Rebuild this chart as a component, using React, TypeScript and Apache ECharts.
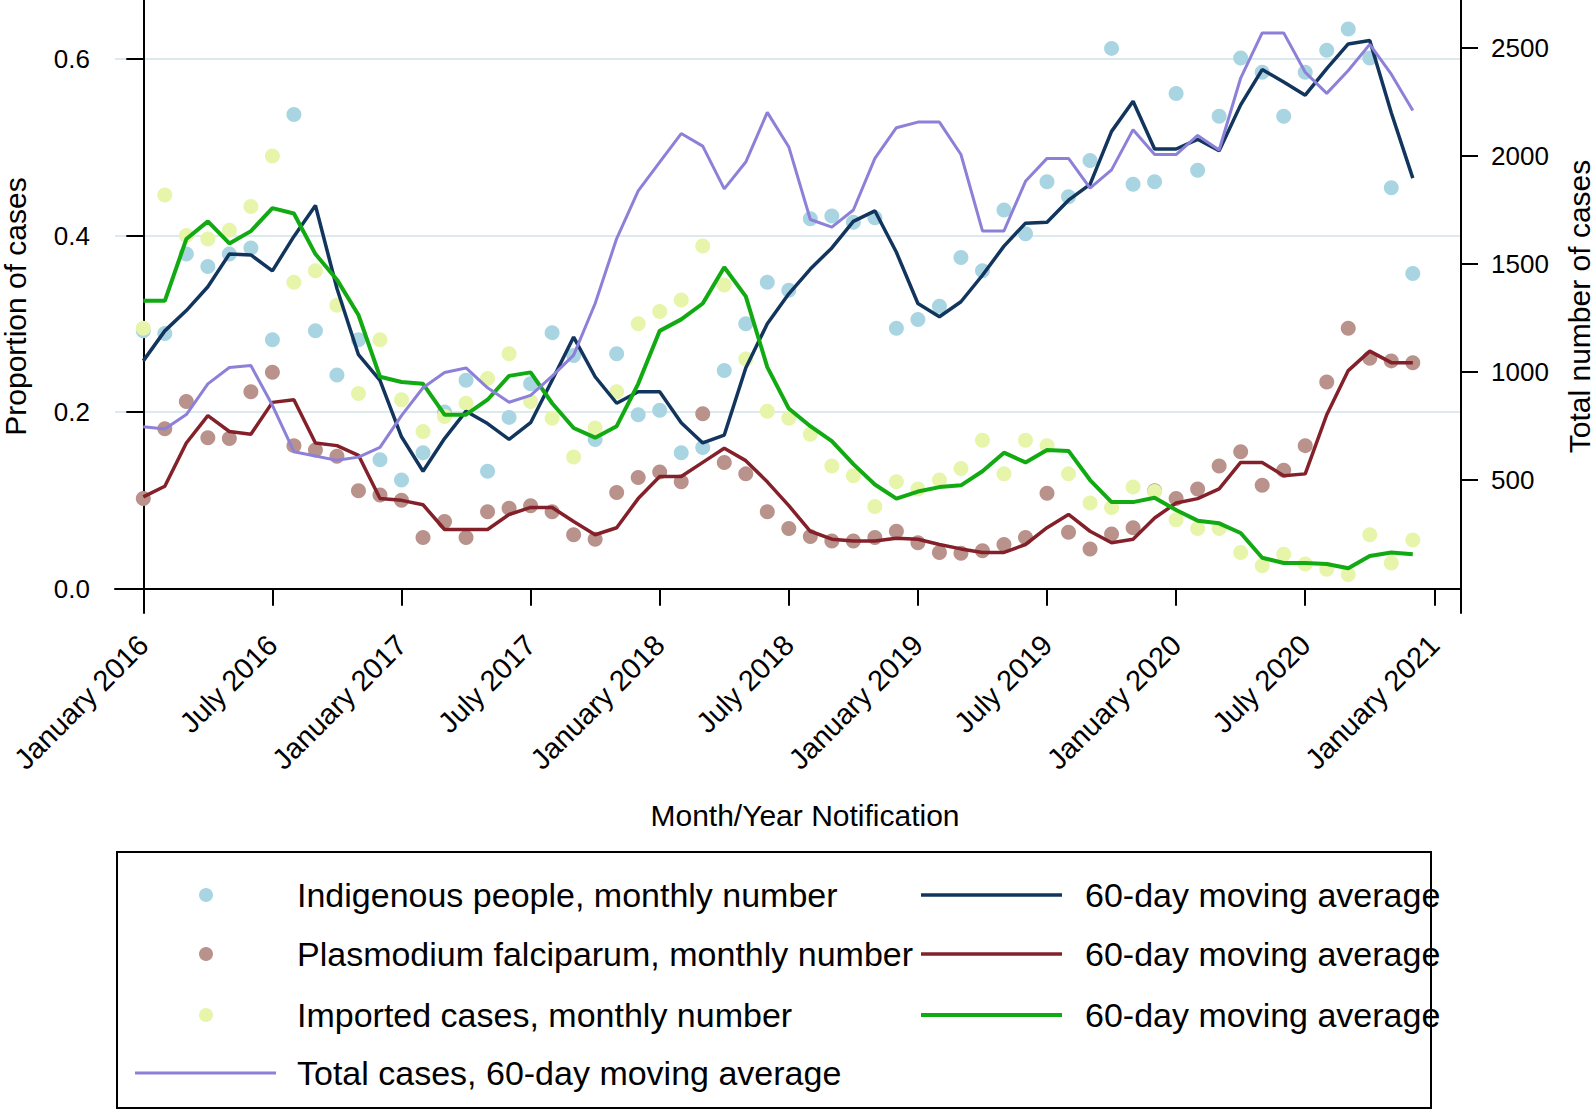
import React, { useEffect, useRef } from "react";
import * as echarts from "echarts";

const FONT = '"Liberation Sans", Arial, Helvetica, sans-serif';

// Month index 0 = January 2016 ... 59 = December 2020
const months = [
  "2016-01","2016-02","2016-03","2016-04","2016-05","2016-06","2016-07","2016-08","2016-09","2016-10","2016-11","2016-12",
  "2017-01","2017-02","2017-03","2017-04","2017-05","2017-06","2017-07","2017-08","2017-09","2017-10","2017-11","2017-12",
  "2018-01","2018-02","2018-03","2018-04","2018-05","2018-06","2018-07","2018-08","2018-09","2018-10","2018-11","2018-12",
  "2019-01","2019-02","2019-03","2019-04","2019-05","2019-06","2019-07","2019-08","2019-09","2019-10","2019-11","2019-12",
  "2020-01","2020-02","2020-03","2020-04","2020-05","2020-06","2020-07","2020-08","2020-09","2020-10","2020-11","2020-12",
];

const xTickIndex = [0, 6, 12, 18, 24, 30, 36, 42, 48, 54, 60];
const xTickLabels = [
  "January 2016", "July 2016", "January 2017", "July 2017", "January 2018", "July 2018",
  "January 2019", "July 2019", "January 2020", "July 2020", "January 2021",
];
const leftTicks = [0, 0.2, 0.4, 0.6];
const rightTicks = [500, 1000, 1500, 2000, 2500];

const indigenousMonthly = [
  0.292, 0.289, 0.379, 0.365, 0.379, 0.386, 0.282, 0.537, 0.292, 0.242,
  0.282, 0.146, 0.123, 0.154, 0.200, 0.236, 0.133, 0.194, 0.232, 0.290,
  0.264, 0.169, 0.266, 0.197, 0.202, 0.154, 0.160, 0.247, 0.300, 0.347,
  0.338, 0.419, 0.422, 0.415, 0.420, 0.295, 0.305, 0.320, 0.375, 0.360,
  0.429, 0.402, 0.461, 0.444, 0.485, 0.612, 0.458, 0.461, 0.561, 0.474,
  0.535, 0.601, 0.585, 0.535, 0.585, 0.610, 0.634, 0.601, 0.454, 0.357,
];
const falciparumMonthly = [
  0.102, 0.181, 0.212, 0.171, 0.170, 0.223, 0.245, 0.162, 0.157, 0.150,
  0.111, 0.106, 0.100, 0.058, 0.076, 0.058, 0.087, 0.091, 0.094, 0.087,
  0.061, 0.056, 0.109, 0.126, 0.132, 0.121, 0.198, 0.143, 0.130, 0.087,
  0.068, 0.059, 0.054, 0.054, 0.058, 0.065, 0.052, 0.041, 0.040, 0.043,
  0.050, 0.058, 0.108, 0.064, 0.045, 0.062, 0.069, 0.111, 0.102, 0.113,
  0.139, 0.155, 0.117, 0.134, 0.162, 0.234, 0.295, 0.261, 0.258, 0.256,
];
const importedMonthly = [
  0.295, 0.446, 0.400, 0.396, 0.406, 0.433, 0.490, 0.347, 0.360, 0.321,
  0.221, 0.282, 0.214, 0.178, 0.195, 0.210, 0.238, 0.266, 0.212, 0.193,
  0.149, 0.182, 0.223, 0.300, 0.314, 0.327, 0.388, 0.344, 0.260, 0.201,
  0.193, 0.175, 0.139, 0.128, 0.093, 0.121, 0.113, 0.123, 0.136, 0.168,
  0.130, 0.168, 0.162, 0.130, 0.097, 0.092, 0.115, 0.110, 0.078, 0.068,
  0.068, 0.041, 0.026, 0.039, 0.028, 0.022, 0.016, 0.061, 0.029, 0.055,
];
const indigenousMA = [
  0.258, 0.292, 0.315, 0.342, 0.379, 0.378, 0.360, 0.399, 0.434, 0.340,
  0.265, 0.236, 0.172, 0.133, 0.170, 0.201, 0.187, 0.169, 0.188, 0.236,
  0.285, 0.240, 0.210, 0.223, 0.223, 0.188, 0.165, 0.174, 0.250, 0.300,
  0.334, 0.362, 0.386, 0.416, 0.428, 0.381, 0.323, 0.308, 0.325, 0.355,
  0.388, 0.414, 0.415, 0.440, 0.458, 0.518, 0.552, 0.498, 0.498, 0.509,
  0.496, 0.548, 0.588, 0.574, 0.559, 0.589, 0.617, 0.621, 0.539, 0.465,
];
const falciparumMA = [
  0.104, 0.116, 0.165, 0.196, 0.178, 0.175, 0.211, 0.214, 0.165, 0.162,
  0.151, 0.102, 0.100, 0.095, 0.067, 0.067, 0.067, 0.084, 0.092, 0.092,
  0.076, 0.061, 0.069, 0.102, 0.127, 0.127, 0.143, 0.159, 0.145, 0.121,
  0.094, 0.065, 0.056, 0.054, 0.054, 0.057, 0.056, 0.050, 0.045, 0.041,
  0.041, 0.050, 0.069, 0.084, 0.065, 0.052, 0.056, 0.080, 0.097, 0.102,
  0.113, 0.143, 0.143, 0.128, 0.130, 0.197, 0.247, 0.269, 0.256, 0.256,
];
const importedMA = [
  0.326, 0.326, 0.396, 0.416, 0.391, 0.405, 0.431, 0.425, 0.379, 0.350,
  0.310, 0.240, 0.234, 0.232, 0.197, 0.197, 0.214, 0.241, 0.245, 0.210,
  0.182, 0.171, 0.184, 0.232, 0.292, 0.305, 0.323, 0.364, 0.331, 0.251,
  0.204, 0.184, 0.167, 0.141, 0.118, 0.102, 0.110, 0.115, 0.117, 0.133,
  0.154, 0.143, 0.157, 0.156, 0.123, 0.098, 0.098, 0.103, 0.089, 0.077,
  0.074, 0.063, 0.035, 0.029, 0.029, 0.028, 0.023, 0.037, 0.041, 0.039,
];
const totalMA = [
  746, 735, 802, 944, 1020, 1029, 845, 630, 610, 590,
  605, 650, 797, 926, 997, 1018, 926, 859, 891, 980,
  1077, 1316, 1617, 1838, 1971, 2103, 2045, 1847, 1971, 2201,
  2041, 1705, 1670, 1749, 1988, 2130, 2156, 2156, 2006, 1652,
  1652, 1882, 1988, 1988, 1850, 1935, 2121, 2006, 2006, 2094,
  2027, 2360, 2569, 2569, 2387, 2289, 2395, 2516, 2378, 2210,
];

const C = {
  blueDot: "#a9d5e3",
  brownDot: "#b9928b",
  yellowDot: "#e6f5aa",
  navy: "#12355e",
  maroon: "#842029",
  green: "#12aa12",
  purple: "#8c80d8",
  grid: "#dce9ee",
};

const pts = (arr: number[]) => arr.map((v, i) => [i, v, months[i]]);

export default function App() {
  const ref = useRef<HTMLDivElement>(null);
  useEffect(() => {
    const chart = echarts.init(ref.current!, null, { renderer: "svg" });
    const axisLine = { show: true, lineStyle: { color: "#000", width: 2 } };
    const tickStyle = { color: "#000", width: 2 };
    const legendText = (x: number, y: number, text: string) => ({
      type: "text",
      x,
      y,
      silent: true,
      style: {
        text,
        fontSize: 34,
        fontFamily: FONT,
        fill: "#000",
        verticalAlign: "middle",
        textVerticalAlign: "middle",
      },
    });
    const legendLine = (x1: number, x2: number, y: number, color: string, w: number) => ({
      type: "line",
      silent: true,
      shape: { x1, y1: y, x2, y2: y },
      style: { stroke: color, lineWidth: w },
    });
    const legendDot = (cx: number, cy: number, color: string) => ({
      type: "circle",
      silent: true,
      shape: { cx, cy, r: 7 },
      style: { fill: color },
    });
    const rows = [895, 954, 1015, 1073];

    const option: any = {
      animation: false,
      backgroundColor: "#fff",
      textStyle: { fontFamily: FONT },
      grid: {
        left: 115,
        top: 0,
        width: 1346,
        height: 613,
        containLabel: false,
        outerBoundsMode: "none",
      },
      xAxis: {
        type: "value",
        min: -1.315,
        max: 61.24,
        axisLine,
        axisTick: { show: true, length: 17, lineStyle: tickStyle, customValues: xTickIndex },
        axisLabel: {
          customValues: xTickIndex,
          rotate: 45,
          margin: 27,
          fontSize: 29,
          color: "#000",
          fontFamily: FONT,
          formatter: (v: number) => xTickLabels[xTickIndex.indexOf(Math.round(v))] ?? "",
        },
        splitLine: { show: false },
        name: "Month/Year Notification",
        nameLocation: "middle",
        nameGap: 187,
        nameMoveOverlap: false,
        nameTextStyle: { fontSize: 30, color: "#000", fontFamily: FONT, padding: [0, 0, 0, 34] },
      },
      yAxis: [
        {
          type: "value",
          position: "left",
          min: -0.0276,
          max: 0.6668,
          axisLine,
          axisTick: { show: true, length: 17, lineStyle: tickStyle, customValues: leftTicks },
          axisLabel: {
            customValues: leftTicks,
            margin: 25,
            fontSize: 26,
            color: "#000",
            fontFamily: FONT,
            formatter: (v: number) => v.toFixed(1),
          },
          splitLine: { show: true, lineStyle: { color: C.grid, width: 2 } },
          name: "Proportion of cases",
          nameLocation: "middle",
          nameRotate: 90,
          nameGap: 85,
          nameMoveOverlap: false,
          nameTextStyle: { fontSize: 30, color: "#000", fontFamily: FONT },
        },
        {
          type: "value",
          position: "right",
          min: -116.7,
          max: 2721.3,
          axisLine,
          axisTick: { show: true, length: 17, lineStyle: tickStyle, customValues: rightTicks },
          axisLabel: {
            customValues: rightTicks,
            margin: 30,
            fontSize: 26,
            color: "#000",
            fontFamily: FONT,
            formatter: (v: number) => String(Math.round(v)),
          },
          splitLine: { show: false },
          name: "Total number of cases",
          nameLocation: "middle",
          nameRotate: 90,
          nameGap: 103,
          nameMoveOverlap: false,
          nameTextStyle: { fontSize: 30, color: "#000", fontFamily: FONT },
        },
      ],
      series: [
        {
          name: "Indigenous people, monthly number",
          type: "scatter",
          symbol: "circle",
          symbolSize: 15,
          itemStyle: { color: C.blueDot, opacity: 1 },
          data: pts(indigenousMonthly),
          z: 2,
        },
        {
          name: "Plasmodium falciparum, monthly number",
          type: "scatter",
          symbol: "circle",
          symbolSize: 15,
          itemStyle: { color: C.brownDot, opacity: 1 },
          data: pts(falciparumMonthly),
          z: 2,
        },
        {
          name: "Imported cases, monthly number",
          type: "scatter",
          symbol: "circle",
          symbolSize: 15,
          itemStyle: { color: C.yellowDot, opacity: 1 },
          data: pts(importedMonthly),
          z: 2,
        },
        {
          name: "Indigenous 60-day moving average",
          type: "line",
          symbol: "none",
          lineStyle: { color: C.navy, width: 3.5 },
          data: pts(indigenousMA),
          z: 3,
        },
        {
          name: "Falciparum 60-day moving average",
          type: "line",
          symbol: "none",
          lineStyle: { color: C.maroon, width: 3.5 },
          data: pts(falciparumMA),
          z: 3,
        },
        {
          name: "Imported 60-day moving average",
          type: "line",
          symbol: "none",
          lineStyle: { color: C.green, width: 4 },
          data: pts(importedMA),
          z: 3,
        },
        {
          name: "Total cases, 60-day moving average",
          type: "line",
          yAxisIndex: 1,
          symbol: "none",
          lineStyle: { color: C.purple, width: 3 },
          data: pts(totalMA),
          z: 4,
        },
      ],
      graphic: [
        {
          type: "rect",
          silent: true,
          shape: { x: 117, y: 852, width: 1314, height: 256 },
          style: { fill: "#fff", stroke: "#000", lineWidth: 2 },
        },
        legendDot(206, rows[0], C.blueDot),
        legendText(297, rows[0], "Indigenous people, monthly number"),
        legendDot(206, rows[1], C.brownDot),
        legendText(297, rows[1], "Plasmodium falciparum, monthly number"),
        legendDot(206, rows[2], C.yellowDot),
        legendText(297, rows[2], "Imported cases, monthly number"),
        legendLine(135, 276, rows[3], C.purple, 3),
        legendText(297, rows[3], "Total cases, 60-day moving average"),
        legendLine(921, 1062, rows[0], C.navy, 3.5),
        legendText(1085, rows[0], "60-day moving average"),
        legendLine(921, 1062, rows[1], C.maroon, 3.5),
        legendText(1085, rows[1], "60-day moving average"),
        legendLine(921, 1062, rows[2], C.green, 4),
        legendText(1085, rows[2], "60-day moving average"),
      ],
    };
    chart.setOption(option);
    return () => chart.dispose();
  }, []);
  return (
    <div
      ref={ref}
      style={{ position: "fixed", left: 0, top: 0, width: 1594, height: 1113, background: "#fff" }}
    />
  );
}
